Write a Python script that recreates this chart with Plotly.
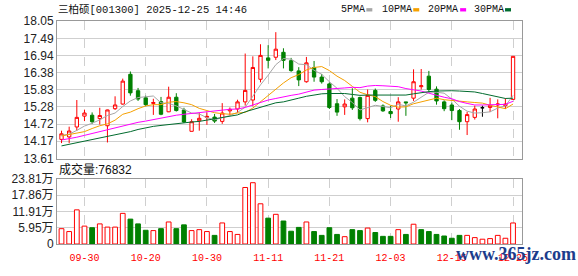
import plotly.graph_objects as go

dates = ["2025-09-25", "2025-09-26", "2025-09-29", "2025-09-30",
         "2025-10-09", "2025-10-10", "2025-10-13", "2025-10-14", "2025-10-15", "2025-10-16",
         "2025-10-17", "2025-10-20", "2025-10-21", "2025-10-22", "2025-10-23", "2025-10-24",
         "2025-10-27", "2025-10-28", "2025-10-29", "2025-10-30", "2025-10-31",
         "2025-11-03", "2025-11-04", "2025-11-05", "2025-11-06", "2025-11-07", "2025-11-10",
         "2025-11-11", "2025-11-12", "2025-11-13", "2025-11-14", "2025-11-17", "2025-11-18",
         "2025-11-19", "2025-11-20", "2025-11-21", "2025-11-24", "2025-11-25", "2025-11-26",
         "2025-11-27", "2025-11-28",
         "2025-12-01", "2025-12-02", "2025-12-03", "2025-12-04", "2025-12-05", "2025-12-08",
         "2025-12-09", "2025-12-10", "2025-12-11", "2025-12-12", "2025-12-15", "2025-12-16",
         "2025-12-17", "2025-12-18", "2025-12-19", "2025-12-22", "2025-12-23", "2025-12-24",
         "2025-12-25"]

opens = [14.23, 14.31, 14.63, 14.98, 15.01, 14.90, 14.67, 15.22, 15.37, 16.33,
         15.80, 15.57, 15.39, 15.45, 15.12, 15.59, 15.18, 14.49, 14.83, 14.94,
         14.95, 14.81, 15.15, 15.21, 15.44, 15.50, 16.17, 16.86, 16.88, 17.04,
         16.77, 16.44, 16.09, 16.55, 16.24, 16.02, 15.38, 15.28, 15.56, 15.58,
         14.90, 15.81, 15.31, 15.13, 15.21, 15.44, 15.56, 15.93, 16.27, 15.85,
         15.44, 15.34, 15.16, 14.80, 14.94, 15.25, 15.26, 15.34, 15.32, 15.52]
highs = [14.51, 14.64, 15.50, 15.19, 15.10, 15.25, 15.19, 15.62, 16.19, 16.42,
         15.89, 15.64, 15.54, 15.60, 15.93, 15.72, 15.25, 14.88, 15.08, 15.10,
         15.05, 15.40, 15.26, 15.51, 17.00, 16.91, 17.30, 17.27, 17.69, 17.17,
         16.86, 16.56, 16.89, 16.76, 16.34, 16.07, 15.53, 15.52, 15.88, 15.61,
         15.84, 15.87, 15.36, 15.32, 15.59, 15.44, 16.49, 16.50, 16.44, 15.94,
         15.49, 15.42, 15.21, 15.12, 15.32, 15.32, 15.57, 15.52, 15.56, 16.91]
lows = [14.11, 14.11, 14.51, 14.82, 14.73, 14.71, 14.13, 15.18, 15.35, 15.64,
        15.47, 15.30, 15.02, 15.01, 15.11, 15.13, 14.76, 14.49, 14.51, 14.70,
        14.76, 14.73, 15.01, 15.08, 15.32, 15.30, 16.07, 16.52, 16.79, 16.52,
        16.41, 15.95, 16.06, 16.09, 16.03, 15.21, 14.99, 15.02, 15.18, 14.84,
        14.78, 15.44, 15.12, 14.92, 14.80, 14.99, 15.47, 15.84, 15.73, 15.35,
        15.14, 14.85, 14.54, 14.37, 14.87, 14.96, 15.11, 14.91, 15.21, 15.52]
closes = [14.41, 14.50, 14.94, 15.08, 14.80, 15.00, 15.18, 15.34, 16.11, 15.73,
          15.53, 15.35, 15.42, 15.04, 15.59, 15.16, 14.79, 14.80, 14.91, 14.97,
          14.82, 15.08, 15.20, 15.44, 15.81, 16.55, 16.94, 16.78, 17.14, 16.78,
          16.45, 16.15, 16.70, 16.24, 16.09, 15.26, 15.11, 15.37, 15.25, 14.90,
          15.65, 15.49, 15.15, 15.06, 15.44, 15.41, 16.09, 15.96, 15.84, 15.47,
          15.22, 15.16, 14.80, 15.03, 15.21, 15.25, 15.33, 15.37, 15.37, 16.91]
volumes = [56000, 45500, 124900, 65400, 59500, 73500, 61800, 61800, 112000, 91000,
           73500, 50200, 49000, 56000, 80500, 56000, 70000, 49000, 52500, 45500,
           31500, 77000, 45500, 35000, 206600, 224100, 147000, 94500, 108500, 84000,
           46700, 60700, 80500, 45500, 31500, 59500, 35000, 26800, 52500, 49000,
           58300, 42000, 28000, 28000, 52500, 35000, 72300, 52500, 45500, 35000,
           29200, 21000, 31500, 31500, 23300, 17500, 19800, 31500, 21000, 76832]

ma5 = [14.36, 14.40, 14.52, 14.66, 14.75, 14.86, 15.00, 15.08, 15.29, 15.47,
       15.58, 15.61, 15.63, 15.41, 15.39, 15.31, 15.20, 15.08, 15.05, 14.93,
       14.86, 14.92, 15.00, 15.10, 15.27, 15.62, 15.99, 16.30, 16.64, 16.84,
       16.82, 16.66, 16.64, 16.46, 16.33, 16.09, 15.88, 15.61, 15.42, 15.18,
       15.26, 15.33, 15.29, 15.25, 15.36, 15.31, 15.43, 15.59, 15.75, 15.75,
       15.72, 15.53, 15.30, 15.14, 15.08, 15.09, 15.12, 15.24, 15.31, 15.65]
ma10 = [14.34, 14.39, 14.44, 14.48, 14.58, 14.67, 14.73, 14.85, 15.04, 15.11,
        15.22, 15.31, 15.35, 15.35, 15.43, 15.45, 15.41, 15.35, 15.23, 15.16,
        15.09, 15.06, 15.04, 15.08, 15.10, 15.24, 15.45, 15.65, 15.87, 16.05,
        16.22, 16.32, 16.47, 16.55, 16.58, 16.45, 16.27, 16.13, 15.94, 15.75,
        15.67, 15.61, 15.45, 15.33, 15.27, 15.28, 15.38, 15.44, 15.50, 15.56,
        15.51, 15.48, 15.45, 15.44, 15.42, 15.40, 15.33, 15.27, 15.22, 15.37]
ma20 = [14.21, 14.25, 14.30, 14.36, 14.42, 14.48, 14.55, 14.61, 14.67, 14.73,
        14.78, 14.82, 14.87, 14.92, 14.96, 15.01, 15.04, 15.07, 15.10, 15.13,
        15.15, 15.18, 15.20, 15.21, 15.26, 15.34, 15.43, 15.50, 15.55, 15.61,
        15.65, 15.69, 15.76, 15.82, 15.84, 15.85, 15.86, 15.89, 15.91, 15.90,
        15.95, 15.97, 15.96, 15.94, 15.93, 15.87, 15.83, 15.79, 15.72, 15.65,
        15.59, 15.54, 15.45, 15.39, 15.34, 15.34, 15.35, 15.35, 15.36, 15.46]
ma30 = [14.02, 14.07, 14.11, 14.16, 14.21, 14.27, 14.31, 14.36, 14.42, 14.48,
        14.55, 14.61, 14.65, 14.68, 14.71, 14.75, 14.78, 14.79, 14.81, 14.85,
        14.88, 14.93, 14.96, 15.02, 15.12, 15.19, 15.27, 15.35, 15.41, 15.44,
        15.51, 15.56, 15.62, 15.66, 15.70, 15.71, 15.71, 15.71, 15.68, 15.65,
        15.66, 15.66, 15.65, 15.65, 15.65, 15.66, 15.70, 15.74, 15.77, 15.79,
        15.80, 15.80, 15.79, 15.78, 15.76, 15.71, 15.66, 15.61, 15.55, 15.56]

price_ticks = [13.61, 14.17, 14.72, 15.28, 15.83, 16.38, 16.94, 17.49, 18.05]
vol_ticks = [0, 59525, 119050, 178575, 238100]
vol_tick_text = ["0", "5.95万", "11.91万", "17.86万", "23.81万"]
xtick_dates = ["2025-09-30", "2025-10-20", "2025-10-30", "2025-11-11",
               "2025-11-21", "2025-12-03", "2025-12-15", "2025-12-25"]
xtick_text = ["09-30", "10-20", "10-30", "11-11", "11-21", "12-03", "12-15", "12-25"]

title_text = "三柏硕[001300] 2025-12-25 14:46"
ma_names = ["5PMA", "10PMA", "20PMA", "30PMA"]
ma_colors = ["#a6a6a6", "#f5a000", "#ff00ff", "#006b2e"]
RED = "#ff0000"
GREEN = "#008000"

# split doji (open == close) candles out so they can be drawn black
norm_idx = [i for i in range(len(dates)) if opens[i] != closes[i]]
doji_idx = [i for i in range(len(dates)) if opens[i] == closes[i]]

fig = go.Figure()

fig.add_trace(go.Candlestick(
    x=[dates[i] for i in norm_idx],
    open=[opens[i] for i in norm_idx], high=[highs[i] for i in norm_idx],
    low=[lows[i] for i in norm_idx], close=[closes[i] for i in norm_idx],
    increasing=dict(line=dict(color=RED, width=1), fillcolor="#ffffff"),
    decreasing=dict(line=dict(color=GREEN, width=1), fillcolor=GREEN),
    whiskerwidth=0, xaxis="x", yaxis="y", hoverinfo="skip"))
if doji_idx:
    fig.add_trace(go.Candlestick(
        x=[dates[i] for i in doji_idx],
        open=[opens[i] for i in doji_idx], high=[highs[i] for i in doji_idx],
        low=[lows[i] for i in doji_idx], close=[closes[i] for i in doji_idx],
        increasing=dict(line=dict(color="#000000", width=1), fillcolor="#000000"),
        decreasing=dict(line=dict(color="#000000", width=1), fillcolor="#000000"),
        whiskerwidth=0, xaxis="x", yaxis="y", hoverinfo="skip"))

for name, vals, col in zip(ma_names, [ma5, ma10, ma20, ma30], ma_colors):
    fig.add_trace(go.Scatter(x=dates, y=vals, mode="lines", name=name,
                             line=dict(color=col, width=1), xaxis="x", yaxis="y",
                             hoverinfo="skip"))

up = [True] + [closes[i] >= closes[i - 1] for i in range(1, len(closes))]
fig.add_trace(go.Bar(
    x=dates, y=volumes, width=0.62,
    marker=dict(color=["#ffffff" if u else GREEN for u in up],
                line=dict(color=[RED if u else GREEN for u in up], width=1)),
    xaxis="x2", yaxis="y2", hoverinfo="skip"))

xr = [-0.59, 60.17]
common_x = dict(type="category", categoryorder="array", categoryarray=dates,
                range=xr, tickmode="array", tickvals=xtick_dates,
                showgrid=True, gridcolor="#cfcfcf", griddash="dash", gridwidth=1,
                showline=True, mirror=True, linecolor="#999999", linewidth=1,
                ticks="", zeroline=False, fixedrange=True)

fig.update_layout(
    width=578, height=276,
    margin=dict(l=56, r=56, t=21, b=21),
    paper_bgcolor="#ffffff", plot_bgcolor="#ffffff",
    showlegend=False, boxgap=0.38, bargap=0.38,
    font=dict(family="Liberation Sans, Noto Sans CJK SC", size=12, color="#222222"),
    xaxis=dict(common_x, anchor="y", domain=[0, 1], showticklabels=False,
               rangeslider=dict(visible=False), ticktext=xtick_text),
    xaxis2=dict(common_x, anchor="y2", domain=[0, 1], showticklabels=True,
                ticktext=xtick_text, ticklabelstandoff=4,
                tickfont=dict(family="Liberation Mono", size=10, color=RED)),
    yaxis=dict(domain=[0.383, 1], range=[price_ticks[0], price_ticks[-1]],
               tickmode="array", tickvals=price_ticks,
               ticktext=[f"{v:.2f}" for v in price_ticks],
               showgrid=True, gridcolor="#cfcfcf", showline=True, mirror=True,
               linecolor="#999999", ticks="", zeroline=False, fixedrange=True,
               tickfont=dict(size=12, color="#222222")),
    yaxis2=dict(domain=[0, 0.292], range=[vol_ticks[0], vol_ticks[-1]],
                tickmode="array", tickvals=vol_ticks, ticktext=vol_tick_text,
                showgrid=True, gridcolor="#cfcfcf", showline=True, mirror=True,
                linecolor="#999999", ticks="", zeroline=False, fixedrange=True,
                tickfont=dict(size=12, color="#222222")),
)

def px_x(px):
    return (px - 56) / 466.0

def px_y(py):
    return (255 - py) / 234.0

annotations = [
    dict(text=title_text, x=px_x(55), y=px_y(9), xref="paper", yref="paper",
         xanchor="left", yanchor="middle", showarrow=False,
         font=dict(family="Liberation Mono, Noto Sans CJK SC", size=10.5, color="#111111")),
    dict(text="成交量:" + str(volumes[-1]), x=px_x(56), y=px_y(177), xref="paper", yref="paper",
         xanchor="left", yanchor="middle", showarrow=False,
         font=dict(family="Liberation Sans, Noto Sans CJK SC", size=12, color="#111111")),
    dict(text="<b>www.365jz.com</b>", x=px_x(454), y=px_y(265), xref="paper", yref="paper",
         xanchor="left", yanchor="middle", showarrow=False,
         font=dict(family="Liberation Serif", size=18, color="#1c3c8c")),
]
legend_left = [339, 380, 425.7, 471.7]
square_left = [366, 413, 460, 505]
shapes = []
for name, col, lx, sx in zip(ma_names, ma_colors, legend_left, square_left):
    annotations.append(dict(text=name, x=px_x(lx), y=px_y(9), xref="paper", yref="paper",
                            xanchor="left", yanchor="middle", showarrow=False,
                            font=dict(family="Liberation Mono", size=10, color="#111111")))
    shapes.append(dict(type="rect", xref="paper", yref="paper",
                       x0=px_x(sx), x1=px_x(sx + 6), y0=px_y(11), y1=px_y(7.5),
                       fillcolor=col, line=dict(width=0)))
fig.update_layout(annotations=annotations, shapes=shapes)

fig.write_html("out.html")
